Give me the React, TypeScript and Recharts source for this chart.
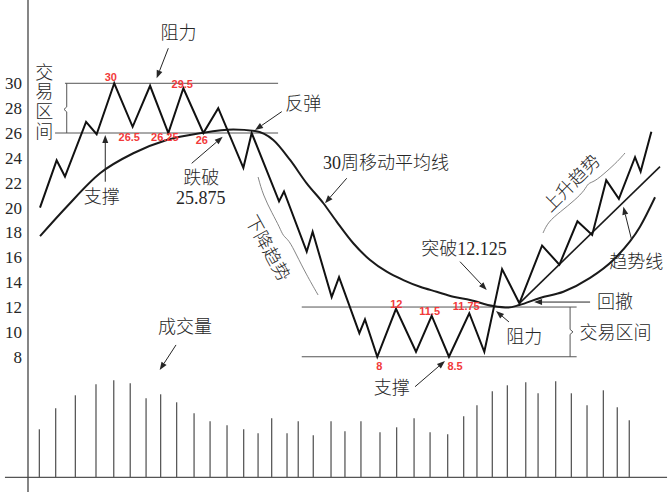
import React from "react";
import {
  Bar,
  ComposedChart,
  Line,
  ReferenceDot,
  ReferenceLine,
  XAxis,
  YAxis,
} from "recharts";

// weeks (x) and volume of each weekly bar
const volumeWeeks = [
  0.71, 1.73, 2.96, 4.25, 5.36, 6.39, 7.38, 8.29, 9.29, 10.38, 11.38, 12.44, 13.48,
  14.38, 15.23, 16.19, 16.89, 17.83, 18.94, 19.81, 20.81, 22.0, 23.04, 24.13, 25.13,
  26.23, 27.23, 28.06, 29.02, 29.96, 31.11, 31.88, 32.98, 33.96, 34.94, 35.96, 36.83,
  37.58,
];
const volumes = [
  48, 69, 82, 93, 97, 94, 79, 83, 75, 64, 56, 52, 48, 44, 59, 44, 56, 42, 56, 46, 56,
  45, 50, 59, 45, 43, 61, 72, 86, 92, 95, 84, 96, 84, 72, 87, 70, 57,
];

// price swings
const priceWeeks = [
  0.75, 1.79, 2.31, 3.63, 4.29, 5.39, 6.54, 7.63, 8.77, 9.71, 10.96, 11.89, 13.46,
  13.98, 15.69, 16.0, 17.42, 17.79, 18.98, 19.44, 20.71, 21.06, 21.83, 23.0, 24.25,
  25.23, 26.31, 27.58, 28.52, 29.63, 30.71, 32.13, 33.21, 34.34, 35.26, 36.14, 36.93,
  37.94, 38.29, 38.96,
];
const prices = [
  20.0, 23.8, 22.5, 26.9, 25.9, 30, 26.5, 29.8, 26.0, 29.6, 26.0, 28.0, 23.2, 26.0,
  20.5, 21.3, 16.45, 18.05, 12.8, 14.4, 9.9, 11.0, 8.0, 11.85, 8.4, 11.3, 8.0, 11.5,
  8.4, 15.05, 12.3, 16.95, 15.4, 18.9, 17.8, 22.2, 20.7, 24.05, 22.9, 26.1,
];

// 30-week moving average
const maWeeks = [
  0.75, 2.42, 4.5, 6.58, 8.67, 10.75, 12.83, 14.19, 15.33, 16.38, 17.42, 18.46, 19.29,
  20.33, 21.38, 22.42, 23.46, 24.5, 25.54, 26.58, 27.63, 29.08, 30.02, 30.71, 32.0,
  33.46, 35.13, 36.58, 38.25, 39.19,
];
const maValues = [
  17.7, 20.07, 22.76, 24.37, 25.44, 25.98, 26.28, 26.16, 25.44, 23.83, 21.95, 20.35,
  18.87, 17.13, 15.78, 14.84, 14.17, 13.63, 13.23, 12.83, 12.57, 12.08, 11.96, 12.16,
  12.73, 13.23, 14.34, 15.78, 18.46, 20.83,
];

// up trend line
const trendWeeks = [30.71, 39.5];
const trendValues = [12.3, 23.29];

const priceTicks = [8, 10, 12, 14, 16, 18, 20, 22, 24, 26, 28, 30];

// trading range boundaries
const rangeLines = [
  { p: 30, from: 2.31, to: 15.63 },
  { p: 26, from: 1.69, to: 15.63 },
  { p: 12, from: 17.11, to: 34.29 },
  { p: 8, from: 17.11, to: 34.29 },
];

const notes = [
  { t: 9.41, p: 34.02, text: "阻力" },
  { t: 4.61, p: 20.85, text: "支撑" },
  { t: 10.83, p: 22.42, text: "跌破" },
  { t: 10.8, p: 20.81, text: "25.875" },
  { t: 17.21, p: 28.33, text: "反弹" },
  { t: 22.38, p: 23.61, text: "30周移动平均线" },
  { t: 9.81, p: 10.39, text: "成交量" },
  { t: 22.73, p: 5.46, text: "支撑" },
  { t: 27.25, p: 16.67, text: "突破12.125" },
  { t: 31.01, p: 9.61, text: "阻力" },
  { t: 36.72, p: 9.89, text: "交易区间" },
  { t: 36.69, p: 12.43, text: "回撤" },
  { t: 38.02, p: 15.65, text: "趋势线" },
];

const slanted = [
  { t: 14.97, p: 16.73, text: "下降趋势", angle: 61 },
  { t: 33.98, p: 21.96, text: "上升趋势", angle: -45 },
];

const upright = [{ t: 1.02, p: 28.48, text: "交易区间" }];

const redMarks = [
  { t: 5.18, p: 30.53, text: "30" },
  { t: 9.64, p: 29.94, text: "29.5" },
  { t: 6.33, p: 25.66, text: "26.5" },
  { t: 8.55, p: 25.66, text: "26.25" },
  { t: 10.86, p: 25.44, text: "26" },
  { t: 23.02, p: 12.24, text: "12" },
  { t: 25.11, p: 11.68, text: "11.5" },
  { t: 27.39, p: 12.08, text: "11.75" },
  { t: 21.95, p: 7.28, text: "8" },
  { t: 26.69, p: 7.28, text: "8.5" },
];

const arrows = [
  { t1: 8.77, p1: 32.82, t2: 8.04, p2: 30.4 },
  { t1: 4.83, p1: 22.08, t2: 4.83, p2: 25.84 },
  { t1: 10.23, p1: 23.56, t2: 12.17, p2: 25.7 },
  { t1: 15.86, p1: 27.72, t2: 14.19, p2: 26.24 },
  { t1: 19.92, p1: 22.36, t2: 18.56, p2: 20.35 },
  { t1: 9.25, p1: 8.95, t2: 8.23, p2: 6.93 },
  { t1: 24.19, p1: 5.59, t2: 26.06, p2: 7.66 },
  { t1: 27.0, p1: 15.65, t2: 28.67, p2: 13.37 },
  { t1: 30.06, p1: 10.8, t2: 29.25, p2: 11.68 },
  { t1: 35.13, p1: 12.4, t2: 31.63, p2: 12.4 },
  { t1: 37.73, p1: 17.39, t2: 37.21, p2: 20.07 },
];

// brackets
const leftBrace = [
  { t: 2.42, p: 30 },
  { t: 2.42, p: 28.1 },
  { t: 2.25, p: 27.9 },
  { t: 2.42, p: 27.7 },
  { t: 2.42, p: 26 },
];
const rightBrace = [
  { t: 33.88, p: 12 },
  { t: 33.88, p: 10.2 },
  { t: 34.06, p: 10 },
  { t: 33.88, p: 9.8 },
  { t: 33.88, p: 8 },
];
const downBrace = [
  { t: 14.38, p: 22.46 },
  { t: 14.69, p: 21.01 },
  { t: 15.25, p: 19.57 },
  { t: 15.75, p: 18.36 },
  { t: 15.94, p: 17.71 },
  { t: 16.31, p: 17.39 },
  { t: 16.75, p: 16.27 },
  { t: 17.38, p: 14.66 },
  { t: 18.13, p: 12.97 },
];
const upBrace = [
  { t: 32.19, p: 17.96 },
  { t: 32.5, p: 18.84 },
  { t: 33.25, p: 19.64 },
  { t: 34.19, p: 20.61 },
  { t: 34.81, p: 21.42 },
  { t: 35.0, p: 21.98 },
  { t: 35.38, p: 22.06 },
  { t: 36.13, p: 22.86 },
  { t: 36.88, p: 23.75 },
  { t: 37.31, p: 24.39 },
];

const volumeRows = volumeWeeks.map((t, i) => ({ t, v: volumes[i] }));
const priceRows = priceWeeks.map((t, i) => ({ t, p: prices[i] }));
const maRows = maWeeks.map((t, i) => ({ t, p: maValues[i] }));
const trendRows = trendWeeks.map((t, i) => ({ t, p: trendValues[i] }));

const SERIF = '"Liberation Serif", serif';
const FONT = '"Liberation Serif", "Noto Sans CJK SC", serif';
const INK = "#262626";

function arrowShape(props: any) {
  const { x1, y1, x2, y2 } = props;
  const a = Math.atan2(y2 - y1, x2 - x1);
  const len = 8;
  const half = 3;
  const bx = x2 - len * Math.cos(a);
  const by = y2 - len * Math.sin(a);
  const pts = `${x2},${y2} ${bx + half * Math.sin(a)},${by - half * Math.cos(a)} ${
    bx - half * Math.sin(a)
  },${by + half * Math.cos(a)}`;
  return (
    <g>
      <line x1={x1} y1={y1} x2={bx} y2={by} stroke={INK} strokeWidth={1} />
      <polygon points={pts} fill={INK} />
    </g>
  );
}

function volumeStick(props: any) {
  const { x, y, width, height } = props;
  const cx = x + width / 2;
  return <line x1={cx} y1={y} x2={cx} y2={y + height} stroke="#5a5a5a" strokeWidth={1.3} />;
}

function noteText(text: string, angle = 0) {
  return (s: any) => (
    <text
      x={s.cx}
      y={s.cy}
      fontSize={18}
      fontWeight={300}
      fontFamily={FONT}
      fill={INK}
      textAnchor="middle"
      dominantBaseline="central"
      transform={angle ? `rotate(${angle} ${s.cx} ${s.cy})` : undefined}
    >
      {text}
    </text>
  );
}

export default function App() {
  return (
    <div style={{ position: "absolute", left: 0, top: 0, background: "#fff" }}>
      <ComposedChart
        width={672}
        height={496}
        data={volumeRows}
        margin={{ top: 0, right: 4, bottom: 4, left: 0 }}
      >
        <XAxis
          dataKey="t"
          type="number"
          domain={[0, 40]}
          allowDataOverflow
          hide
        />
        <YAxis
          yAxisId="p"
          width={28}
          domain={[-2.88, 36.7]}
          allowDataOverflow
          ticks={priceTicks}
          interval={0}
          tickLine={false}
          tickSize={4}
          tickMargin={2}
          axisLine={{ stroke: "#444", strokeWidth: 1.3 }}
          tick={{ fontSize: 17, fill: INK, fontFamily: SERIF }}
        />
        <YAxis
          yAxisId="v"
          orientation="right"
          domain={[-14.7, 477.3]}
          allowDataOverflow
          hide
        />

        <Bar
          yAxisId="v"
          dataKey="v"
          barSize={2}
          shape={volumeStick}
          isAnimationActive={false}
        />
        <ReferenceLine
          yAxisId="v"
          segment={[
            { x: -1.44, y: 0 },
            { x: 39.94, y: 0 },
          ]}
          stroke="#555"
          strokeWidth={1.3}
          ifOverflow="visible"
        />

        {rangeLines.map((r, i) => (
          <ReferenceLine
            key={`r${i}`}
            yAxisId="p"
            segment={[
              { x: r.from, y: r.p },
              { x: r.to, y: r.p },
            ]}
            stroke="#555"
            strokeWidth={1}
            ifOverflow="visible"
          />
        ))}

        {[leftBrace, rightBrace].map((b, i) => (
          <Line
            key={`b${i}`}
            yAxisId="p"
            data={b}
            dataKey="p"
            type="linear"
            stroke="#555"
            strokeWidth={1}
            dot={false}
            activeDot={false}
            isAnimationActive={false}
          />
        ))}
        {[downBrace, upBrace].map((b, i) => (
          <Line
            key={`c${i}`}
            yAxisId="p"
            data={b}
            dataKey="p"
            type="basis"
            stroke="#777"
            strokeWidth={0.9}
            dot={false}
            activeDot={false}
            isAnimationActive={false}
          />
        ))}

        <Line
          yAxisId="p"
          data={maRows}
          dataKey="p"
          type="monotone"
          stroke="#1a1a1a"
          strokeWidth={2}
          dot={false}
          activeDot={false}
          isAnimationActive={false}
        />
        <Line
          yAxisId="p"
          data={trendRows}
          dataKey="p"
          type="linear"
          stroke="#1a1a1a"
          strokeWidth={1.6}
          dot={false}
          activeDot={false}
          isAnimationActive={false}
        />
        <Line
          yAxisId="p"
          data={priceRows}
          dataKey="p"
          type="linear"
          stroke="#111"
          strokeWidth={2}
          strokeLinejoin="miter"
          dot={false}
          activeDot={false}
          isAnimationActive={false}
        />

        {arrows.map((a, i) => (
          <ReferenceLine
            key={`a${i}`}
            yAxisId="p"
            segment={[
              { x: a.t1, y: a.p1 },
              { x: a.t2, y: a.p2 },
            ]}
            ifOverflow="visible"
            shape={arrowShape}
          />
        ))}

        {notes.map((n, i) => (
          <ReferenceDot
            key={`n${i}`}
            yAxisId="p"
            x={n.t}
            y={n.p}
            r={0}
            ifOverflow="visible"
            shape={noteText(n.text)}
          />
        ))}

        {slanted.map((n, i) => (
          <ReferenceDot
            key={`s${i}`}
            yAxisId="p"
            x={n.t}
            y={n.p}
            r={0}
            ifOverflow="visible"
            shape={noteText(n.text, n.angle)}
          />
        ))}

        {upright.map((n, i) => (
          <ReferenceDot
            key={`u${i}`}
            yAxisId="p"
            x={n.t}
            y={n.p}
            r={0}
            ifOverflow="visible"
            shape={(s: any) => {
              const chars = Array.from(n.text);
              return (
                <text
                  fontSize={18}
                  fontWeight={300}
                  fontFamily={FONT}
                  fill={INK}
                  textAnchor="middle"
                  dominantBaseline="central"
                >
                  {chars.map((c, k) => (
                    <tspan key={k} x={s.cx} y={s.cy + (k - (chars.length - 1) / 2) * 19.7}>
                      {c}
                    </tspan>
                  ))}
                </text>
              );
            }}
          />
        ))}

        {redMarks.map((m, i) => (
          <ReferenceDot
            key={`m${i}`}
            yAxisId="p"
            x={m.t}
            y={m.p}
            r={0}
            ifOverflow="visible"
            shape={(s: any) => (
              <text
                x={s.cx}
                y={s.cy}
                fontSize={11}
                fontWeight="bold"
                fontFamily='"Liberation Sans", Arial, sans-serif'
                fill="#f23a3a"
                textAnchor="middle"
                dominantBaseline="central"
              >
                {m.text}
              </text>
            )}
          />
        ))}
      </ComposedChart>
    </div>
  );
}
